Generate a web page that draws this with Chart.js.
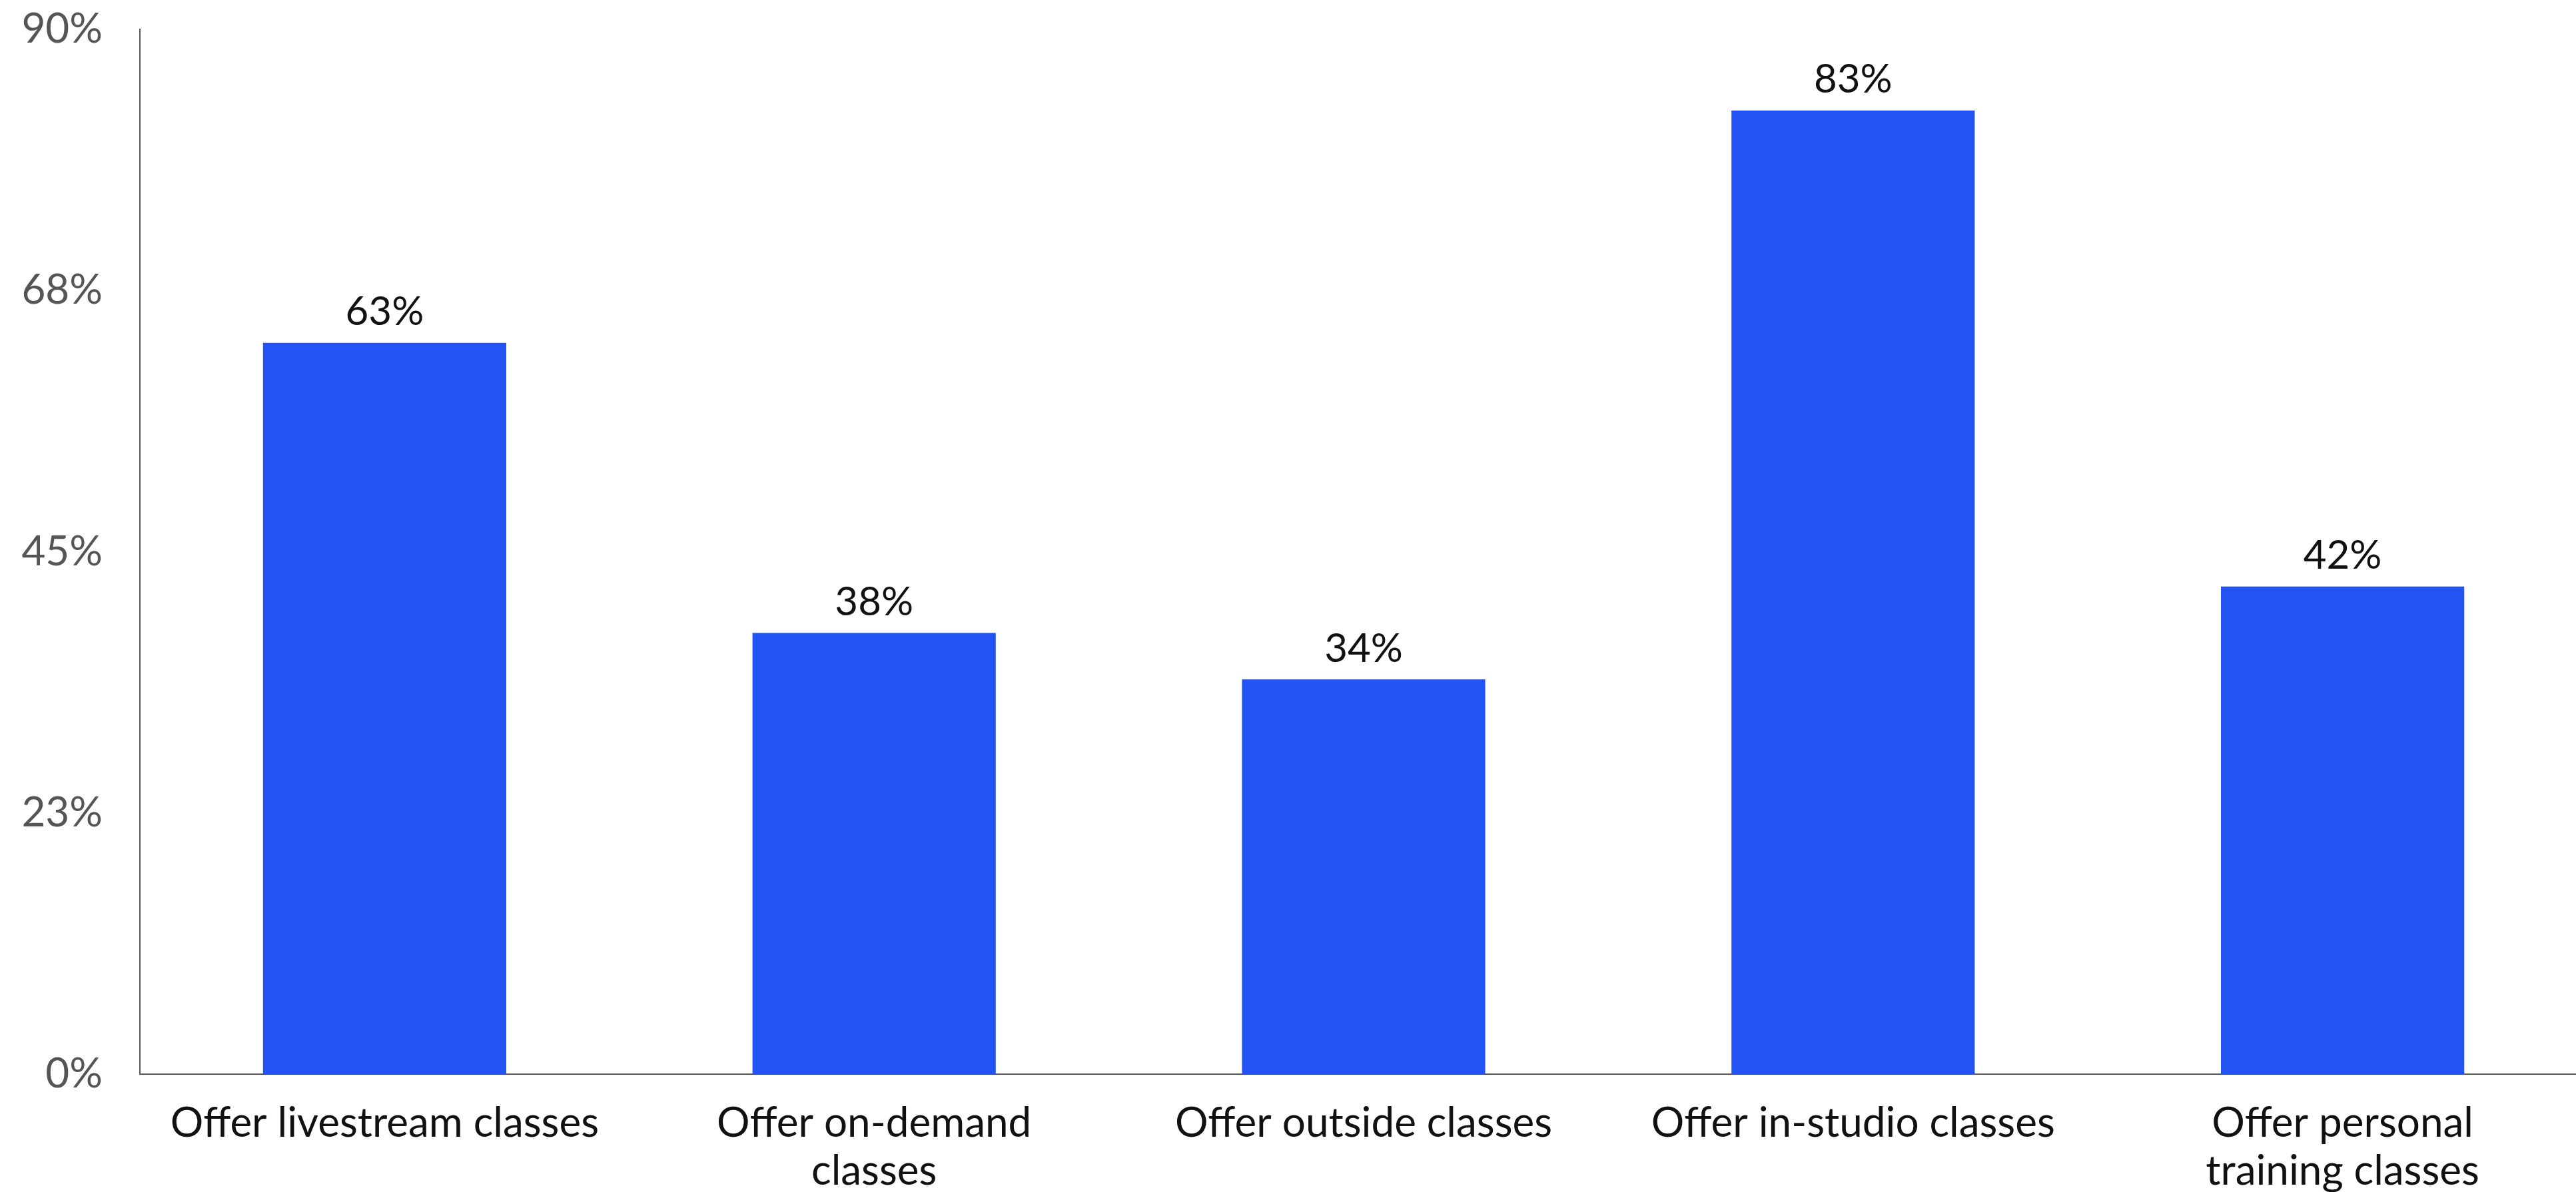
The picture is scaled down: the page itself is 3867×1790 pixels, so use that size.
<!DOCTYPE html>
<html>
<head>
<meta charset="utf-8">
<title>Class offerings</title>
<script src="https://cdn.jsdelivr.net/npm/chart.js@4.4.1/dist/chart.umd.min.js"></script>
<style>
  html, body { margin: 0; padding: 0; background: #fff; overflow: hidden; }
  /* plot area runs a little past the right edge of the page */
  #wrap { width: 3884px; height: 1790px; position: relative; }
</style>
</head>
<body>
<div id="wrap"><canvas id="chart-bars"></canvas></div>
<script>
// data
var categories = [
  "Offer livestream classes",
  ["Offer on-demand", "classes"],
  "Offer outside classes",
  "Offer in-studio classes",
  ["Offer personal", "training classes"]
];
var shares = [63, 38, 34, 83, 42];
var yTicks = [0, 22.5, 45, 67.5, 90];

var fontFamily = "Lato, 'Noto Sans', sans-serif";

// value labels above each bar
var barLabels = {
  id: 'barLabels',
  afterDatasetsDraw: function (chart) {
    var ctx = chart.ctx;
    var meta = chart.getDatasetMeta(0);
    ctx.save();
    ctx.font = "60px " + fontFamily;
    ctx.fillStyle = "#111";
    ctx.textAlign = "center";
    ctx.textBaseline = "bottom";
    meta.data.forEach(function (bar, i) {
      ctx.fillText(shares[i] + "%", bar.x, bar.y - 16);
    });
    ctx.restore();
  }
};

var ctx = document.getElementById("chart-bars").getContext("2d");

new Chart(ctx, {
  type: "bar",
  data: {
    labels: categories,
    datasets: [{
      data: shares,
      backgroundColor: "#2353f3",
      borderWidth: 0,
      categoryPercentage: 1,
      barPercentage: 0.497
    }]
  },
  options: {
    responsive: true,
    maintainAspectRatio: false,
    animation: false,
    layout: {
      padding: { top: 44, right: 0, left: 0, bottom: 0 }
    },
    plugins: {
      legend: { display: false },
      tooltip: { enabled: false }
    },
    scales: {
      y: {
        min: 0,
        max: 90,
        afterBuildTicks: function (scale) {
          scale.ticks = yTicks.map(function (v) { return { value: v }; });
        },
        afterFit: function (scale) {
          scale.width = 210;
          scale.paddingTop = 0;
          scale.paddingBottom = 0;
        },
        grid: { display: false, drawTicks: false },
        border: { display: true, color: "#5a5a5a", width: 2 },
        ticks: {
          padding: 56,
          color: "#555",
          font: { size: 62, family: fontFamily },
          callback: function (v) { return Math.round(v) + "%"; }
        }
      },
      x: {
        afterFit: function (scale) {
          scale.height = 177;
          scale.paddingLeft = 0;
          scale.paddingRight = 0;
        },
        grid: { display: false, drawTicks: false },
        border: { display: true, color: "#5a5a5a", width: 2 },
        ticks: {
          padding: 38,
          color: "#111",
          maxRotation: 0,
          autoSkip: false,
          font: { size: 62, family: fontFamily, lineHeight: 1.16 }
        }
      }
    }
  },
  plugins: [barLabels]
});
</script>
</body>
</html>
